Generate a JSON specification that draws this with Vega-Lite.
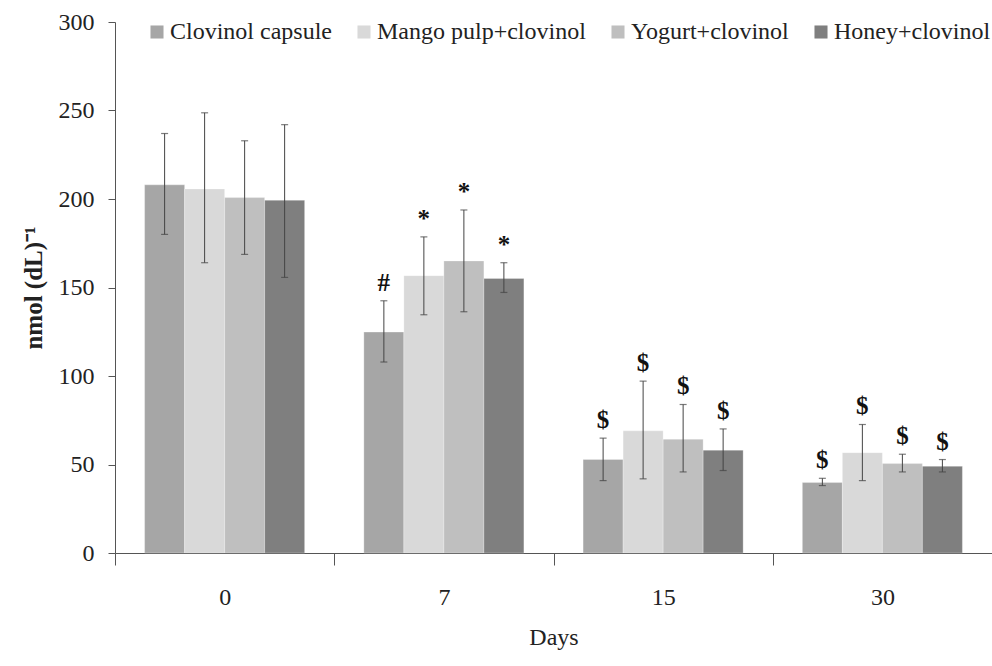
{
  "$schema": "https://vega.github.io/schema/vega-lite/v6.json",
  "width": 877,
  "height": 531,
  "autosize": {"type": "none"},
  "padding": {"left": 115, "top": 22, "right": 0, "bottom": 113},
  "background": "white",
  "config": {
    "view": {"stroke": null},
    "font": "Liberation Serif",
    "axis": {"grid": false, "labelFont": "Liberation Serif", "titleFont": "Liberation Serif", "domainColor": "#555555", "tickColor": "#555555", "labelColor": "#222222", "titleColor": "#222222"}
  },
  "data": {
    "values": [
      {"day": "0", "group": "Clovinol capsule", "mean": 208, "lo": 180, "hi": 237, "sig": ""},
      {"day": "0", "group": "Mango pulp+clovinol", "mean": 205.7, "lo": 164, "hi": 248.7, "sig": ""},
      {"day": "0", "group": "Yogurt+clovinol", "mean": 200.8, "lo": 168.7, "hi": 232.9, "sig": ""},
      {"day": "0", "group": "Honey+clovinol", "mean": 199.3, "lo": 155.7, "hi": 242, "sig": ""},
      {"day": "7", "group": "Clovinol capsule", "mean": 124.8, "lo": 107.9, "hi": 142.5, "sig": "#"},
      {"day": "7", "group": "Mango pulp+clovinol", "mean": 156.7, "lo": 134.6, "hi": 178.6, "sig": "*"},
      {"day": "7", "group": "Yogurt+clovinol", "mean": 165, "lo": 136.3, "hi": 193.8, "sig": "*"},
      {"day": "7", "group": "Honey+clovinol", "mean": 155.1, "lo": 147.2, "hi": 164, "sig": "*"},
      {"day": "15", "group": "Clovinol capsule", "mean": 52.8, "lo": 40.9, "hi": 64.9, "sig": "$"},
      {"day": "15", "group": "Mango pulp+clovinol", "mean": 69, "lo": 41.9, "hi": 97.1, "sig": "$"},
      {"day": "15", "group": "Yogurt+clovinol", "mean": 64.3, "lo": 45.8, "hi": 83.9, "sig": "$"},
      {"day": "15", "group": "Honey+clovinol", "mean": 58.1, "lo": 46.6, "hi": 70.1, "sig": "$"},
      {"day": "30", "group": "Clovinol capsule", "mean": 39.8, "lo": 38.1, "hi": 42.2, "sig": "$"},
      {"day": "30", "group": "Mango pulp+clovinol", "mean": 56.7, "lo": 40.9, "hi": 72.6, "sig": "$"},
      {"day": "30", "group": "Yogurt+clovinol", "mean": 50.5, "lo": 45.8, "hi": 55.8, "sig": "$"},
      {"day": "30", "group": "Honey+clovinol", "mean": 49, "lo": 45.8, "hi": 52.8, "sig": "$"}
    ]
  },
  "encoding": {
    "x": {
      "field": "day", "type": "nominal", "sort": ["0", "7", "15", "30"],
      "scale": {"paddingInner": 0, "paddingOuter": 0},
      "title": "Days",
      "axis": {"labelAngle": 0, "tickBand": "extent", "tickSize": 12, "labelPadding": 20, "labelFontSize": 24, "titleFontSize": 24, "titleFontWeight": "normal", "titlePadding": 16}
    },
    "xOffset": {
      "field": "group", "type": "nominal",
      "sort": ["Clovinol capsule", "Mango pulp+clovinol", "Yogurt+clovinol", "Honey+clovinol"],
      "scale": {"paddingInner": 0, "paddingOuter": 0.74}
    }
  },
  "layer": [
    {
      "mark": {"type": "bar", "stroke": "#ffffff", "strokeOpacity": 0.35, "strokeWidth": 0.8},
      "encoding": {
        "y": {
          "field": "mean", "type": "quantitative",
          "scale": {"domain": [0, 300], "nice": false},
          "title": "nmol (dL)⁻¹",
          "axis": {"values": [0, 50, 100, 150, 200, 250, 300], "tickSize": 7, "labelPadding": 14, "labelFontSize": 24, "titleFontSize": 25, "titleFontWeight": "bold", "titlePadding": 12}
        },
        "color": {
          "field": "group", "type": "nominal",
          "sort": ["Clovinol capsule", "Mango pulp+clovinol", "Yogurt+clovinol", "Honey+clovinol"],
          "scale": {"domain": ["Clovinol capsule", "Mango pulp+clovinol", "Yogurt+clovinol", "Honey+clovinol"], "range": ["#a6a6a6", "#d9d9d9", "#bfbfbf", "#7f7f7f"]},
          "legend": {
            "title": null, "orient": "none", "direction": "horizontal", "legendX": 30, "legendY": -2,
            "symbolType": "square", "symbolSize": 170, "symbolStrokeWidth": 0,
            "labelFont": "Liberation Serif", "labelFontSize": 24, "labelColor": "#222222",
            "labelOffset": 1, "columnPadding": 20, "labelLimit": 400
          }
        }
      }
    },
    {
      "mark": {"type": "rule", "color": "#444444", "strokeWidth": 1},
      "encoding": {
        "y": {"field": "lo", "type": "quantitative"},
        "y2": {"field": "hi"}
      }
    },
    {
      "mark": {"type": "tick", "orient": "horizontal", "color": "#444444", "thickness": 1.2, "size": 7},
      "encoding": {"y": {"field": "lo", "type": "quantitative"}}
    },
    {
      "mark": {"type": "tick", "orient": "horizontal", "color": "#444444", "thickness": 1.2, "size": 7},
      "encoding": {"y": {"field": "hi", "type": "quantitative"}}
    },
    {
      "mark": {"type": "text", "baseline": "bottom", "dy": -5, "fontSize": 25, "fontWeight": "bold", "font": "Liberation Serif", "color": "#111111"},
      "encoding": {
        "y": {"field": "hi", "type": "quantitative"},
        "text": {"field": "sig", "type": "nominal"}
      }
    }
  ]
}
